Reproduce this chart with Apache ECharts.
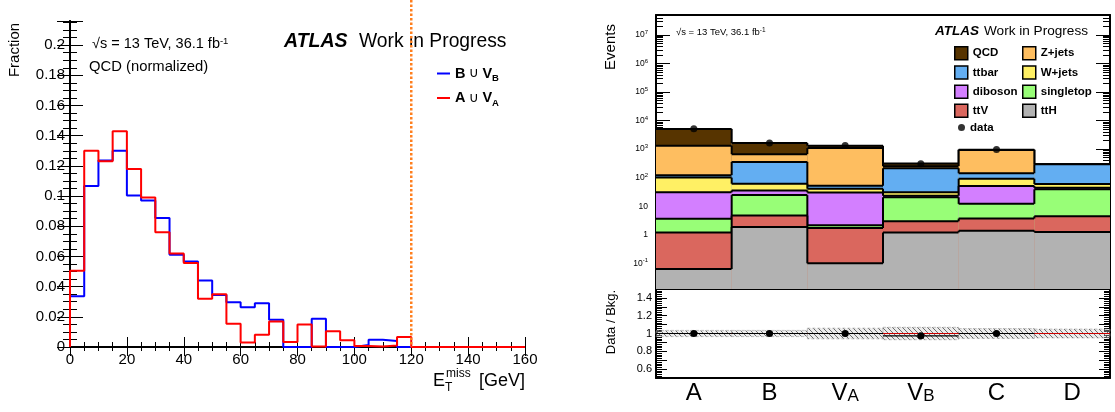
<!DOCTYPE html>
<html><head><meta charset="utf-8">
<script src="https://cdn.jsdelivr.net/npm/echarts@6/dist/echarts.min.js"></script>
<style>html,body{margin:0;padding:0;background:#fff}#c{width:1115px;height:412px}</style>
</head><body><div id="c"></div>
<script>
// ================= DATA =================
// Left panel: QCD-normalised E_T^miss shape, 5 GeV bins (lower edges)
const binEdges = [0,5,10,15,20,25,30,35,40,45,50,55,60,65,70,75,80,85,90,95,100,105,110,115];
const histEnd = 120;
const axisEnd = 160;
const cutValue = 120;
const blueVals = [0.0336,0.1066,0.1235,0.130,0.1004,0.0971,0.0855,0.0611,0.0567,0.044,0.0345,0.0297,0.0264,0.029,0.018,0,0,0.0187,0,0,0.0013,0.0048,0.004,0];
const redVals  = [0.0505,0.130,0.123,0.143,0.118,0.099,0.076,0.062,0.0556,0.032,0.035,0.0154,0.0029,0.0081,0.0169,0.0033,0.0149,0.0004,0.0105,0.0044,0.0007,0.0004,0.001,0.0066];
const leftSeriesNames = ['B ∪ V_B','A ∪ V_A'];

// Right panel: regions and per-process yields (stack order bottom -> top)
const regions = ['A','B','V_A','V_B','C','D'];
const processes = ['ttH','ttV','singletop','diboson','W+jets','ttbar','Z+jets','QCD'];
const ttH       = [0.063, 1.87, 0.10, 1.21, 1.39, 1.24];
const ttV       = [1.15, 2.83, 1.62, 1.76, 2.30, 3.21];
const singletop = [2.4, 19.8, 0.42, 17.6, 8.4, 34.6];
const diboson   = [27, 11.3, 28.4, 2.7, 38.9, 5];
const wjets     = [70, 25.8, 10.5, 7.5, 41, 16];
const ttbar     = [22, 296, 11, 183, 51, 237];
const zjets     = [1190, 310, 1038, 40, 797, 0.5];
const qcd       = [3790, 967, 225, 60, 20, 0.5];
const dataVals  = [5150, 1650, 1330, 305, 965, '-'];
const ratioVals = [1.0, 1.0, 1.0, 0.974, 1.0, '-'];
const ratioErr  = [0.008, 0.01, 0.012, 0.022, 0.012, '-'];
const bkgUnc    = [0.035, 0.035, 0.06, 0.07, 0.055, 0.05];
const logMajorTicks = [0.1, 1, 10, 100, 1000, 10000, 100000, 1000000, 10000000];
const logMinorMult = [2,3,4,5,6,7,8,9];

// ================= STYLE =================
const FONT = '"Liberation Sans", Arial, Helvetica, sans-serif';
const procColors = ['#b2b2b2','#da675e','#98fe77','#d37fff','#fff064','#63aef2','#febe60','#573400'];
const yLogMin = 0.0126, yLogMax = 5.0e7;

const comps = [ttH, ttV, singletop, diboson, wjets, ttbar, zjets, qcd];
const cums = [];
let run = regions.map(() => 0);
comps.forEach(arr => { run = run.map((r, i) => r + arr[i]); cums.push(run.slice()); });

const minorLog = [];
for (let e = -2; e <= 7; e++) logMinorMult.forEach(m => { const v = m * Math.pow(10, e); if (v > yLogMin && v < yLogMax) minorLog.push(v); });

function stepData(vals) {
  const d = [[binEdges[0], 0]];
  vals.forEach((v, i) => d.push([binEdges[i], v]));
  d.push([histEnd, 0]); d.push([axisEnd, 0]);
  return d;
}

function hatchCanvas() {
  const c = document.createElement('canvas'); c.width = 5; c.height = 5;
  const g = c.getContext('2d');
  g.fillStyle = 'rgba(200,200,200,0.35)'; g.fillRect(0, 0, 5, 5);
  g.strokeStyle = 'rgba(95,95,95,0.9)'; g.lineWidth = 1;
  g.beginPath();
  g.moveTo(-1,-1); g.lineTo(6,6);
  g.moveTo(-4,1); g.lineTo(4,9);
  g.moveTo(1,-4); g.lineTo(9,4);
  g.stroke();
  return c;
}
const hatch = hatchCanvas();

function stackSeries(name, cum, color) {
  return {
    type: 'custom', name, xAxisIndex: 2, yAxisIndex: 2,
    itemStyle: { color, borderColor: '#000', borderWidth: 1.5 },
    data: regions.map((r, i) => [i, cum[i]]),
    renderItem: (params, api) => {
      const i = api.value(0), top = api.value(1);
      const c = api.coord([i, top]);
      const w = api.size([1, top])[0];
      const cs = params.coordSys;
      const bottomY = cs.y + cs.height;
      const x0 = c[0] - w / 2, x1 = c[0] + w / 2;
      const ch = [
        { type: 'rect', shape: { x: x0, y: c[1], width: w, height: bottomY - c[1] }, style: { fill: color } },
        { type: 'line', shape: { x1: x0, y1: c[1], x2: x1, y2: c[1] }, style: { stroke: '#000', lineWidth: 2 } }
      ];
      if (i > 0) {
        const p = api.coord([i - 1, cum[i - 1]]);
        ch.push({ type: 'line', shape: { x1: x0, y1: p[1], x2: x0, y2: c[1] }, style: { stroke: '#000', lineWidth: 2 } });
      }
      return { type: 'group', children: ch };
    }
  };
}

const chart = echarts.init(document.getElementById('c'), null, { renderer: 'canvas' });

const series = [
  { type: 'line', name: leftSeriesNames[0], xAxisIndex: 0, yAxisIndex: 0, step: 'end', showSymbol: false,
    data: stepData(blueVals), lineStyle: { color: '#0000ff', width: 2 }, itemStyle: { color: '#0000ff' } },
  { type: 'line', name: leftSeriesNames[1], xAxisIndex: 0, yAxisIndex: 0, step: 'end', showSymbol: false,
    data: stepData(redVals), lineStyle: { color: '#ff0000', width: 2 }, itemStyle: { color: '#ff0000' } }
];
for (let k = comps.length - 1; k >= 0; k--) series.push(stackSeries(processes[k], cums[k], procColors[k]));
series.push({ type: 'scatter', name: 'data', xAxisIndex: 2, yAxisIndex: 2, symbolSize: 7,
  itemStyle: { color: '#000' }, data: dataVals.map((v, i) => [i, v]), z: 5 });
// ratio panel
series.push({ type: 'custom', name: 'unc', xAxisIndex: 4, yAxisIndex: 6,
  data: bkgUnc.map((u, i) => [i, u]),
  renderItem: (params, api) => {
    const i = api.value(0), u = api.value(1);
    const hi = api.coord([i, 1 + u]), lo = api.coord([i, 1 - u]);
    const w = api.size([1, 1])[0];
    return { type: 'rect', shape: { x: hi[0] - w / 2, y: hi[1], width: w, height: lo[1] - hi[1] },
      style: { fill: { image: hatch, repeat: 'repeat' }, stroke: 'rgba(150,150,150,0.7)', lineWidth: 0.8, lineDash: [3, 2] } };
  },
  markLine: { silent: true, symbol: 'none', label: { show: false }, animation: false,
    lineStyle: { color: '#cc0000', width: 1, type: 'solid' }, data: [{ yAxis: 1 }] }
});
series.push({ type: 'custom', name: 'ratio', xAxisIndex: 4, yAxisIndex: 6, z: 5,
  data: ratioVals.map((v, i) => [i, v, ratioErr[i]]).filter(d => d[1] !== '-'),
  renderItem: (params, api) => {
    const i = api.value(0), r = api.value(1), e = api.value(2);
    const c = api.coord([i, r]);
    const w = api.size([1, 1])[0];
    const up = api.coord([i, r + e]), dn = api.coord([i, r - e]);
    return { type: 'group', children: [
      { type: 'line', shape: { x1: c[0] - w / 2, y1: c[1], x2: c[0] + w / 2, y2: c[1] }, style: { stroke: '#000', lineWidth: 1.2 } },
      { type: 'line', shape: { x1: c[0], y1: up[1], x2: c[0], y2: dn[1] }, style: { stroke: '#000', lineWidth: 1.5 } },
      { type: 'circle', shape: { cx: c[0], cy: c[1], r: 3.6 }, style: { fill: '#000' } }
    ] };
  }
});

const blk = '#000';
const tickStyle = { color: blk, width: 1 };
const logFmt = v => {
  const e = Math.round(Math.log10(v));
  if (e === 0) return '1';
  if (e === 1) return '10';
  return '10{sup|' + e + '}';
};
const legTxt = { fontSize: 11.5, fontWeight: 'bold', color: blk, fontFamily: FONT, lineHeight: 13 };

const option = {
  animation: false,
  backgroundColor: '#fff',
  textStyle: { fontFamily: FONT },
  grid: [
    { left: 70, top: 21, width: 455, height: 326 },
    { left: 656, top: 15, width: 454, height: 274 },
    { left: 656, top: 289, width: 454, height: 89 }
  ],
  xAxis: [
    { gridIndex: 0, type: 'value', min: 0, max: axisEnd, interval: 20, position: 'bottom',
      axisLine: { lineStyle: { color: blk, width: 2 } },
      axisTick: { inside: true, length: 10, lineStyle: tickStyle },
      minorTick: { show: true, splitNumber: 4, length: 5, lineStyle: tickStyle },
      splitLine: { show: false },
      axisLabel: { color: blk, fontSize: 15, margin: 5, fontFamily: FONT } },
    { gridIndex: 0, type: 'value', min: 0, max: axisEnd, interval: 20, position: 'top',
      axisLine: { lineStyle: { color: blk, width: 2 } },
      axisTick: { inside: true, length: 9, lineStyle: tickStyle },
      minorTick: { show: true, splitNumber: 4, length: 4, lineStyle: tickStyle },
      splitLine: { show: false }, axisLabel: { show: false } },
    { gridIndex: 1, type: 'category', data: regions, position: 'bottom',
      axisLine: { lineStyle: { color: blk, width: 2 } }, axisTick: { show: false }, axisLabel: { show: false } },
    { gridIndex: 1, type: 'category', data: regions, position: 'top',
      axisLine: { lineStyle: { color: blk, width: 2 } },
      axisTick: { inside: true, length: 6, lineStyle: tickStyle }, axisLabel: { show: false } },
    { gridIndex: 2, type: 'category', data: regions, position: 'bottom',
      axisLine: { lineStyle: { color: blk, width: 2 } },
      axisTick: { inside: true, length: 6, lineStyle: tickStyle },
      axisLabel: { color: blk, margin: 3, fontFamily: FONT,
        formatter: v => v.indexOf('_') >= 0 ? '{m|' + v.split('_')[0] + '}{s|' + v.split('_')[1] + '}' : '{m|' + v + '}',
        rich: { m: { fontSize: 24, lineHeight: 24, color: blk, fontFamily: FONT },
                s: { fontSize: 17, lineHeight: 10, verticalAlign: 'bottom', color: blk, fontFamily: FONT } } } },
    { gridIndex: 2, type: 'category', data: regions, position: 'top',
      axisLine: { lineStyle: { color: blk, width: 2 } },
      axisTick: { inside: true, length: 6, lineStyle: tickStyle }, axisLabel: { show: false } }
  ],
  yAxis: [
    { gridIndex: 0, type: 'value', min: 0, max: 0.216, interval: 0.02, position: 'left',
      axisLine: { show: true, lineStyle: { color: blk, width: 2 } },
      axisTick: { show: true, inside: true, length: 13, lineStyle: tickStyle },
      minorTick: { show: true, splitNumber: 4, length: 7, lineStyle: tickStyle },
      splitLine: { show: false },
      axisLabel: { color: blk, fontSize: 15, margin: 5, fontFamily: FONT, showMaxLabel: false,
        formatter: v => (v === 0 ? '0' : String(+v.toFixed(2))) } },
    { gridIndex: 0, type: 'value', min: 0, max: 0.216, interval: 0.02, position: 'right',
      axisLine: { show: true, lineStyle: { color: blk, width: 2 } },
      axisTick: { show: true, inside: true, length: 13, lineStyle: tickStyle },
      minorTick: { show: true, splitNumber: 4, length: 7, lineStyle: tickStyle },
      splitLine: { show: false }, axisLabel: { show: false } },
    { gridIndex: 1, type: 'log', logBase: 10, min: yLogMin, max: yLogMax, position: 'left',
      axisLine: { show: true, lineStyle: { color: blk, width: 2 } },
      axisTick: { show: true, inside: true, length: 14, lineStyle: tickStyle, customValues: logMajorTicks },
      splitLine: { show: false },
      axisLabel: { color: blk, fontFamily: FONT, margin: 8, customValues: logMajorTicks, formatter: logFmt,
        rich: { sup: { fontSize: 6, lineHeight: 6, verticalAlign: 'top', color: blk, fontFamily: FONT } },
        fontSize: 8.5, lineHeight: 11 } },
    { gridIndex: 1, type: 'log', logBase: 10, min: yLogMin, max: yLogMax, position: 'left',
      axisLine: { show: false },
      axisTick: { show: true, inside: true, length: 7, lineStyle: tickStyle, customValues: minorLog },
      splitLine: { show: false }, axisLabel: { show: false } },
    { gridIndex: 1, type: 'log', logBase: 10, min: yLogMin, max: yLogMax, position: 'right',
      axisLine: { show: true, lineStyle: { color: blk, width: 2 } },
      axisTick: { show: true, inside: true, length: 14, lineStyle: tickStyle, customValues: logMajorTicks },
      splitLine: { show: false }, axisLabel: { show: false } },
    { gridIndex: 1, type: 'log', logBase: 10, min: yLogMin, max: yLogMax, position: 'right',
      axisLine: { show: false },
      axisTick: { show: true, inside: true, length: 7, lineStyle: tickStyle, customValues: minorLog },
      splitLine: { show: false }, axisLabel: { show: false } },
    { gridIndex: 2, type: 'value', min: 0.5, max: 1.5, interval: 0.1, position: 'left',
      axisLine: { show: true, lineStyle: { color: blk, width: 2 } },
      axisTick: { show: true, inside: true, length: 11, lineStyle: tickStyle },
      minorTick: { show: true, splitNumber: 5, length: 6, lineStyle: tickStyle },
      splitLine: { show: false },
      axisLabel: { color: blk, fontSize: 11, margin: 4, fontFamily: FONT,
        formatter: v => { const t = Math.round(v * 10); return (t % 2 === 0 && t > 5 && t < 15) ? String(t / 10) : ''; } } },
    { gridIndex: 2, type: 'value', min: 0.5, max: 1.5, interval: 0.1, position: 'right',
      axisLine: { show: true, lineStyle: { color: blk, width: 2 } },
      axisTick: { show: true, inside: true, length: 11, lineStyle: tickStyle },
      minorTick: { show: true, splitNumber: 5, length: 6, lineStyle: tickStyle },
      splitLine: { show: false }, axisLabel: { show: false } }
  ],
  legend: [
    { data: leftSeriesNames, left: 437, top: 66, padding: 0, orient: 'vertical', itemWidth: 13, itemHeight: 2, itemGap: 7,
      icon: 'rect', selectedMode: false,
      formatter: n => { const p = n.split(' ∪ '); const s = p[1].split('_'); return '{b|' + p[0] + '} {u|∪} {b|' + s[0] + '}{s|' + s[1] + '}'; },
      textStyle: { rich: {
        b: { fontSize: 14.5, fontWeight: 'bold', color: blk, fontFamily: FONT, lineHeight: 20 },
        u: { fontSize: 14, color: blk, fontFamily: '"DejaVu Sans", sans-serif', lineHeight: 20 },
        s: { fontSize: 9.5, fontWeight: 'bold', color: blk, fontFamily: FONT, lineHeight: 8, verticalAlign: 'bottom' } } } },
    { data: ['QCD','ttbar','diboson','ttV'], left: 954, top: 46, padding: 0, orient: 'vertical', itemWidth: 13, itemHeight: 13,
      itemGap: 4.7, icon: 'rect', selectedMode: false, itemStyle: { borderColor: '#000', borderWidth: 1.5 },
      textStyle: legTxt },
    { data: ['Z+jets','W+jets','singletop','ttH'], left: 1022, top: 46, padding: 0, orient: 'vertical', itemWidth: 13, itemHeight: 13,
      itemGap: 4.7, icon: 'rect', selectedMode: false, itemStyle: { borderColor: '#000', borderWidth: 1.5 },
      textStyle: legTxt },
    { data: ['data'], left: 958, top: 121, padding: 0, itemWidth: 7, itemHeight: 7, icon: 'circle', selectedMode: false,
      textStyle: legTxt }
  ],
  graphic: [
    { id: 'fracT', type: 'text', x: 15, y: 50, rotation: Math.PI / 2,
      style: { text: 'Fraction', fontSize: 15, fontFamily: FONT, fill: blk, align: 'center', verticalAlign: 'middle' } },
    { id: 'lumiL', type: 'text', x: 92, y: 44,
      style: { text: '√s = 13 TeV, 36.1 fb{sup|-1}', fontSize: 14.5, fontFamily: FONT, fill: blk, verticalAlign: 'middle',
        lineHeight: 16, rich: { sup: { fontSize: 9.5, lineHeight: 8, verticalAlign: 'top', fill: blk, fontFamily: FONT } } } },
    { id: 'qcdL', type: 'text', x: 89, y: 67,
      style: { text: 'QCD (normalized)', fontSize: 14.8, fontFamily: FONT, fill: blk, verticalAlign: 'middle' } },
    { id: 'atlasL', type: 'text', x: 284, y: 42,
      style: { text: 'ATLAS', fontSize: 19.5, fontWeight: 'bold', fontStyle: 'italic', fontFamily: FONT, fill: blk, verticalAlign: 'middle' } },
    { id: 'wipL', type: 'text', x: 359, y: 42,
      style: { text: 'Work in Progress', fontSize: 19.3, fontFamily: FONT, fill: blk, verticalAlign: 'middle' } },
    { id: 'xE', type: 'text', x: 433, y: 381,
      style: { text: 'E', fontSize: 18, fontFamily: FONT, fill: blk, verticalAlign: 'middle' } },
    { id: 'xMiss', type: 'text', x: 446, y: 374,
      style: { text: 'miss', fontSize: 12, fontFamily: FONT, fill: blk, verticalAlign: 'middle' } },
    { id: 'xT', type: 'text', x: 445, y: 388,
      style: { text: 'T', fontSize: 12, fontFamily: FONT, fill: blk, verticalAlign: 'middle' } },
    { id: 'xGeV', type: 'text', x: 525, y: 381,
      style: { text: '[GeV]', fontSize: 18, fontFamily: FONT, fill: blk, align: 'right', verticalAlign: 'middle' } },
    { id: 'evT', type: 'text', x: 611, y: 47, rotation: Math.PI / 2,
      style: { text: 'Events', fontSize: 15, fontFamily: FONT, fill: blk, align: 'center', verticalAlign: 'middle' } },
    { id: 'ratT', type: 'text', x: 611, y: 322, rotation: Math.PI / 2,
      style: { text: 'Data / Bkg.', fontSize: 13, fontFamily: FONT, fill: blk, align: 'center', verticalAlign: 'middle' } },
    { id: 'lumiR', type: 'text', x: 676, y: 32,
      style: { text: '√s = 13 TeV, 36.1 fb{sup|-1}', fontSize: 9.5, fontFamily: FONT, fill: blk, verticalAlign: 'middle',
        lineHeight: 11, rich: { sup: { fontSize: 6.5, lineHeight: 5, verticalAlign: 'top', fill: blk, fontFamily: FONT } } } },
    { id: 'atlasR', type: 'text', x: 935, y: 31,
      style: { text: 'ATLAS', fontSize: 13.5, fontWeight: 'bold', fontStyle: 'italic', fontFamily: FONT, fill: blk, verticalAlign: 'middle' } },
    { id: 'wipR', type: 'text', x: 984, y: 31,
      style: { text: 'Work in Progress', fontSize: 13.6, fontFamily: FONT, fill: blk, verticalAlign: 'middle' } }
  ],
  series
};
chart.setOption(option);

// Cut line at E_T^miss = cutValue, positioned through the axis scale
const cx = chart.convertToPixel({ xAxisIndex: 0 }, cutValue);
const cy = chart.convertToPixel({ yAxisIndex: 0 }, 0);
chart.setOption({ graphic: { elements: [
  { id: 'cut', type: 'line', z: 100, shape: { x1: cx, y1: 0, x2: cx, y2: cy },
    style: { stroke: '#ff7f1e', lineWidth: 2.5, lineDash: [2.5, 2] } }
] } });
</script>
</body></html>
